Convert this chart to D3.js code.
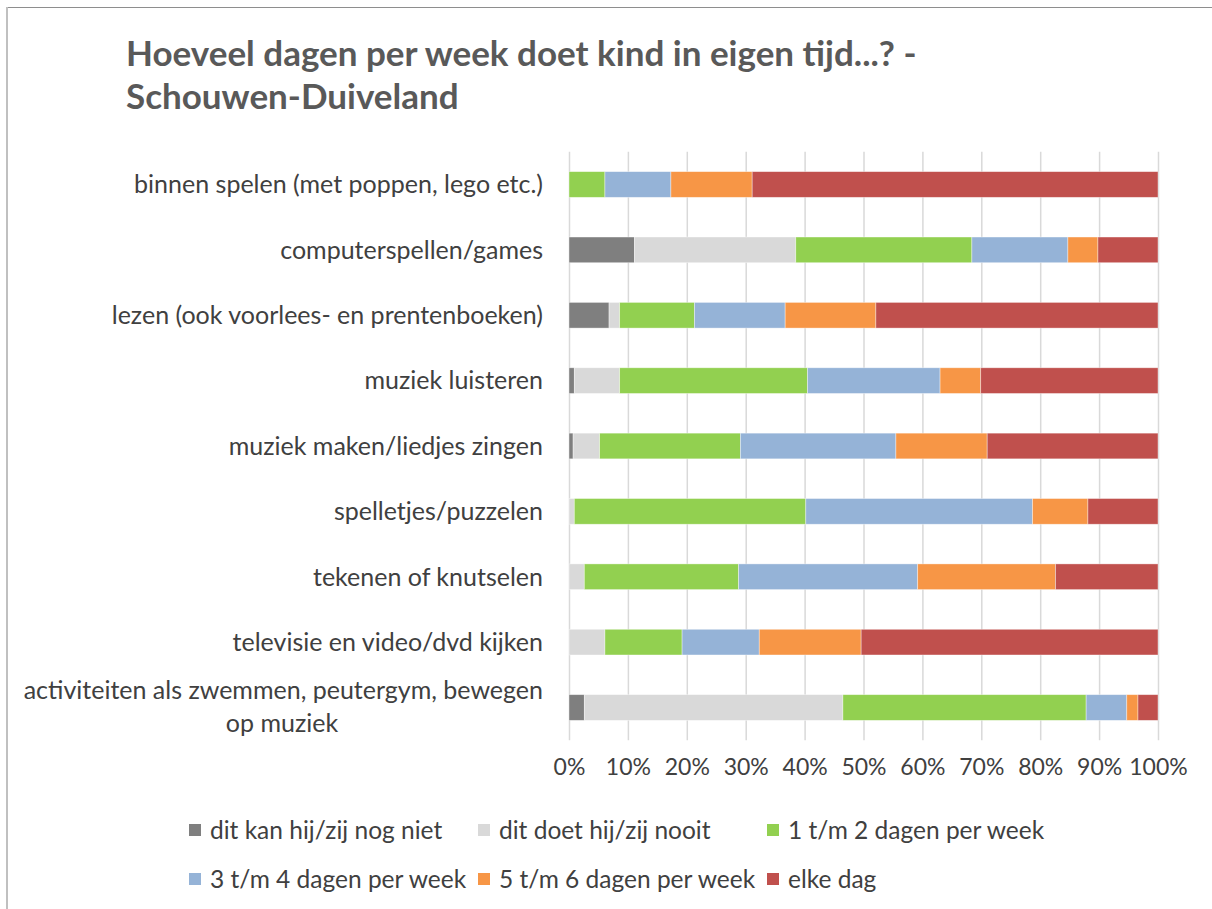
<!DOCTYPE html>
<html>
<head>
<meta charset="utf-8">
<script src="https://cdn.jsdelivr.net/npm/d3@7"></script>
<style>
  html, body { margin: 0; padding: 0; background: #fff; }
  svg { display: block; font-family: Lato, "Open Sans", sans-serif; }
</style>
</head>
<body>
<svg width="1212" height="909"></svg>
<script>

// categories, top to bottom ("|" marks a line break in the label)
var categories = [
  "binnen spelen (met poppen, lego etc.)",
  "computerspellen/games",
  "lezen (ook voorlees- en prentenboeken)",
  "muziek luisteren",
  "muziek maken/liedjes zingen",
  "spelletjes/puzzelen",
  "tekenen of knutselen",
  "televisie en video/dvd kijken",
  "activiteiten als zwemmen, peutergym, bewegen|op muziek"
];

var seriesNames = [
  "dit kan hij/zij nog niet",
  "dit doet hij/zij nooit",
  "1 t/m 2 dagen per week",
  "3 t/m 4 dagen per week",
  "5 t/m 6 dagen per week",
  "elke dag"
];

var seriesColors = ["#7f7f7f", "#d9d9d9", "#92d050", "#95b3d7", "#f79646", "#c0504d"];

// percentages per series, same order as categories
var nogNiet   = [0,    11.1, 6.8,  0.9,  0.7,  0,    0,    0,    2.6];
var nooit     = [0,    27.4, 1.8,  7.7,  4.5,  0.9,  2.6,  6.1,  43.9];
var dag12     = [6.1,  29.9, 12.7, 31.9, 23.9, 39.3, 26.2, 13.1, 41.3];
var dag34     = [11.2, 16.3, 15.4, 22.5, 26.4, 38.5, 30.4, 13.1, 6.9];
var dag56     = [13.8, 5.1,  15.4, 6.9,  15.5, 9.4,  23.4, 17.3, 1.9];
var elkeDag   = [68.9, 10.2, 47.9, 30.1, 29.0, 11.9, 17.4, 50.4, 3.4];

var xTicks = [0, 0.1, 0.2, 0.3, 0.4, 0.5, 0.6, 0.7, 0.8, 0.9, 1];

var allSeries = [nogNiet, nooit, dag12, dag34, dag56, elkeDag];

var rows = categories.map(function(c, i) {
  var r = { cat: c };
  seriesNames.forEach(function(s, j) { r[s] = allSeries[j][i]; });
  return r;
});

var svg = d3.select("svg");

//###############################################
// frame + title
//###############################################

svg.append("line").attr("x1", 6).attr("x2", 1212).attr("y1", 7.5).attr("y2", 7.5)
  .attr("stroke", "#8e8e8e").attr("stroke-width", 1);
svg.append("line").attr("x1", 7).attr("x2", 7).attr("y1", 7).attr("y2", 909)
  .attr("stroke", "#c0c0c0").attr("stroke-width", 2);

var title = svg.append("text")
  .attr("x", 126)
  .attr("fill", "#595959")
  .attr("font-weight", "bold")
  .attr("font-size", 35);
title.append("tspan").attr("x", 126).attr("y", 66).text("Hoeveel dagen per week doet kind in eigen tijd...? -");
title.append("tspan").attr("x", 126).attr("y", 109).text("Schouwen-Duiveland");

//###############################################
// scales
//###############################################

var x = d3.scaleLinear().domain([0, 1]).range([569, 1158]);

var y = d3.scaleBand()
  .domain(categories)
  .range([151.8, 740.2])
  .paddingInner(0.607)
  .paddingOuter(0.3035);

var color = d3.scaleOrdinal().domain(seriesNames).range(seriesColors);

var stacked = d3.stack()
  .keys(seriesNames)
  .offset(d3.stackOffsetExpand)(rows);

//###############################################
// gridlines + x axis
//###############################################

var xAxis = svg.append("g")
  .attr("transform", "translate(0,740.2)")
  .call(d3.axisBottom(x)
    .tickValues(xTicks)
    .tickFormat(d3.format(".0%"))
    .tickSize(-588.4)
    .tickPadding(18));

xAxis.select(".domain").remove();
xAxis.selectAll(".tick line").attr("stroke", "#d9d9d9").attr("stroke-width", 1.5);
xAxis.selectAll(".tick text")
  .attr("fill", "#404040")
  .attr("font-size", 23)
  .attr("font-family", "Lato, sans-serif");

//###############################################
// bars
//###############################################

svg.append("g")
  .selectAll("g")
  .data(stacked)
  .enter().append("g")
    .attr("fill", function(d) { return color(d.key); })
  .selectAll("rect")
  .data(function(d) { return d; })
  .enter().append("rect")
    .attr("x", function(d) { return x(d[0]); })
    .attr("width", function(d) { return Math.max(0, x(d[1]) - x(d[0])); })
    .attr("y", function(d) { return y(d.data.cat); })
    .attr("height", y.bandwidth())
    .attr("stroke", "#ffffff")
    .attr("stroke-opacity", 0.5)
    .attr("stroke-width", function(d) { return d[1] > d[0] ? 0.75 : 0; });

//###############################################
// category labels
//###############################################

var labels = svg.append("g")
  .attr("fill", "#404040")
  .attr("font-size", 25);

categories.forEach(function(c) {
  var lines = c.split("|");
  var cy = y(c) + y.bandwidth() / 2;
  if (lines.length === 1) {
    labels.append("text")
      .attr("x", 543)
      .attr("y", cy)
      .attr("dy", "0.35em")
      .attr("text-anchor", "end")
      .text(lines[0]);
  } else {
    labels.append("text")
      .attr("x", 543)
      .attr("y", cy - 9)
      .attr("text-anchor", "end")
      .text(lines[0]);
    labels.append("text")
      .attr("x", 282)
      .attr("y", cy + 24)
      .attr("text-anchor", "middle")
      .text(lines[1]);
  }
});

//###############################################
// legend
//###############################################

var legend = svg.append("g")
  .attr("font-size", 24.5)
  .attr("fill", "#404040");

var legendItem = legend.selectAll("g")
  .data(seriesNames)
  .enter().append("g")
    .attr("transform", function(d, i) {
      return "translate(" + (189 + (i % 3) * 289) + "," + (830 + Math.floor(i / 3) * 49) + ")";
    });

legendItem.append("rect")
  .attr("x", 0)
  .attr("y", -6)
  .attr("width", 12)
  .attr("height", 12)
  .attr("fill", function(d) { return color(d); });

legendItem.append("text")
  .attr("x", 21)
  .attr("dy", "0.35em")
  .text(function(d) { return d; });

</script>
</body>
</html>
